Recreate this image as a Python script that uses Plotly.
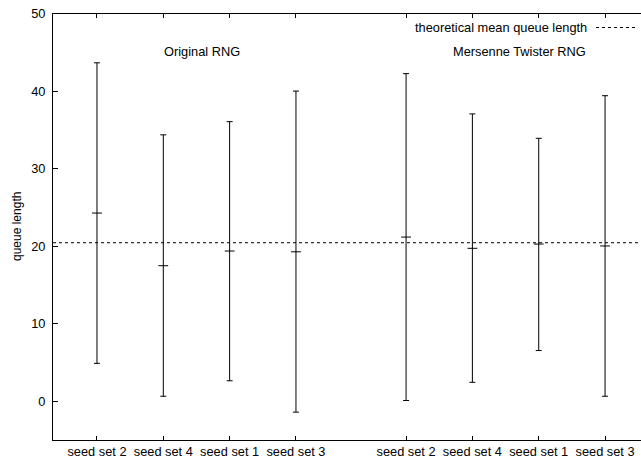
import plotly.graph_objects as go

# ---- data ----
categories = ["seed set 2", "seed set 4", "seed set 1", "seed set 3",
              "seed set 2", "seed set 4", "seed set 1", "seed set 3"]
x_pos = [1, 2, 3, 4, 5.66, 6.66, 7.66, 8.66]
group_names = ["Original RNG", "Mersenne Twister RNG"]
means = [24.3, 17.5, 19.4, 19.3, 21.2, 19.75, 20.3, 20.05]
upper = [43.7, 34.4, 36.1, 40.05, 42.3, 37.1, 33.95, 39.45]
lower = [4.9, 0.65, 2.65, -1.4, 0.1, 2.45, 6.55, 0.65]
theoretical_mean = 20.47
y_ticks = [0, 10, 20, 30, 40, 50]

FONT = "Liberation Sans, Arial, sans-serif"
FS = 12.8

fig = go.Figure()
fig.add_trace(go.Scatter(
    x=x_pos, y=means, mode="markers",
    marker=dict(symbol="line-ew", size=7, color="black",
                line=dict(color="black", width=1)),
    error_y=dict(type="data", symmetric=False,
                 array=[u - m for u, m in zip(upper, means)],
                 arrayminus=[m - l for m, l in zip(means, lower)],
                 color="black", thickness=1, width=3),
    showlegend=False, cliponaxis=False,
))

# theoretical mean line
fig.add_shape(type="line", xref="paper", x0=0, x1=1, yref="y",
              y0=theoretical_mean, y1=theoretical_mean,
              line=dict(color="black", width=1, dash="3px,3px"))

# legend (text left, key right)
fig.add_annotation(xref="paper", yref="paper", x=(589 - 53) / 588, y=(440 - 27) / 426,
                   text="theoretical mean queue length", showarrow=False,
                   xanchor="right", yanchor="middle",
                   font=dict(family=FONT, size=FS, color="black"))
fig.add_shape(type="line", xref="paper", yref="paper",
              x0=(596 - 53) / 588, x1=(636 - 53) / 588,
              y0=(440 - 27.5) / 426, y1=(440 - 27.5) / 426,
              line=dict(color="black", width=1, dash="3px,3px"))

# group labels
label_px = [202, 519]
for name, px in zip(group_names, label_px):
    fig.add_annotation(x=(px - 53) / 588, xref="paper", yref="paper", y=(440 - 52) / 426,
                       text=name, showarrow=False, xanchor="center", yanchor="middle",
                       font=dict(family=FONT, size=FS, color="black"))

# y title
fig.add_annotation(xref="paper", yref="paper", x=(17 - 53) / 588, y=0.5,
                   text="queue length", textangle=-90, showarrow=False,
                   xanchor="center", yanchor="middle",
                   font=dict(family=FONT, size=12, color="black"))

fig.update_layout(
    width=641, height=462,
    margin=dict(l=53, r=0, t=14, b=22),
    paper_bgcolor="white", plot_bgcolor="white",
    font=dict(family=FONT, size=FS, color="black"),
    xaxis=dict(range=[0.337, 9.202], tickmode="array", tickvals=x_pos,
               ticktext=categories, ticks="inside", ticklen=4, tickcolor="black",
               showline=True, linecolor="black", linewidth=1, mirror="ticks",
               showgrid=False, zeroline=False, tickfont=dict(size=FS)),
    yaxis=dict(range=[-5, 50], tickmode="array", tickvals=y_ticks,
               ticks="inside", ticklen=5, tickcolor="black",
               showline=True, linecolor="black", linewidth=1,
               showgrid=False, zeroline=False, ticklabelstandoff=4,
               tickfont=dict(size=FS)),
)

fig.write_html("out.html", config={"displayModeBar": False},
               post_script="document.body.style.margin='0';")
